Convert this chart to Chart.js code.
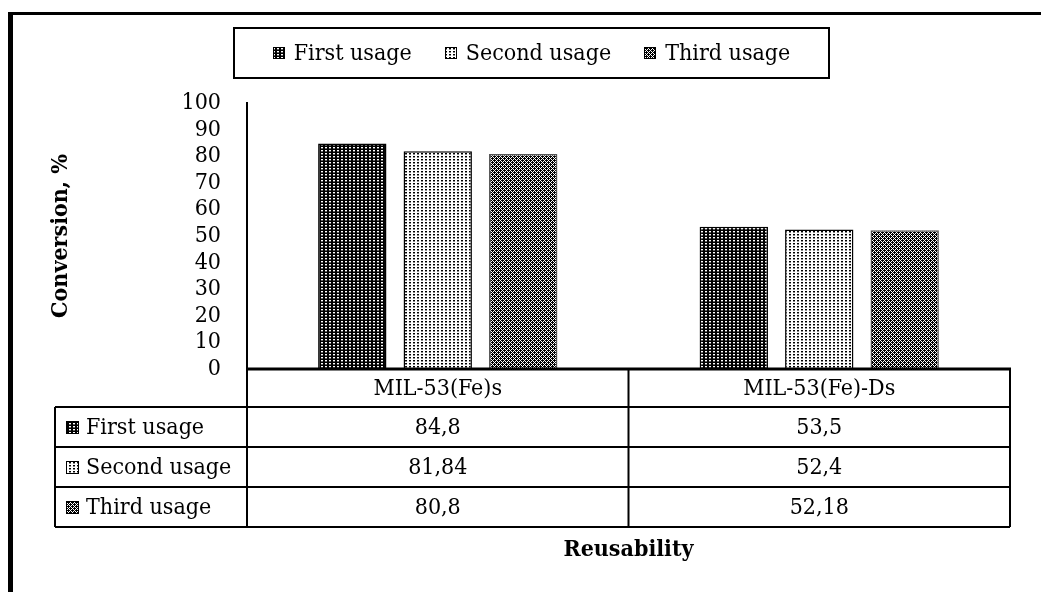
<!DOCTYPE html>
<html>
<head>
<meta charset="utf-8">
<script src="https://cdn.jsdelivr.net/npm/chart.js@4.4.1/dist/chart.umd.min.js"></script>
<style>
  html, body { margin: 0; padding: 0; background: #fff; }
  canvas { display: block; }
</style>
</head>
<body>
<canvas id="reuseChart" width="1041" height="592"></canvas>
<script>
// Conversion after repeated use of each catalyst
const categories = ['MIL-53(Fe)s', 'MIL-53(Fe)-Ds'];
const usageLabels = ['First usage', 'Second usage', 'Third usage'];
const firstUsage = [84.8, 53.5];
const secondUsage = [81.84, 52.4];
const thirdUsage = [80.8, 52.18];
const yMin = 0;
const yMax = 100;
const yStep = 10;

const FONT = "'DejaVu Serif Condensed', 'DejaVu Serif', serif";
const FS = 23;

const canvas = document.getElementById('reuseChart');
const ctx = canvas.getContext('2d');

// small pixel tiles for the hatched bar fills
function makePattern(w, h, paint) {
    const tile = document.createElement('canvas');
    tile.width = w;
    tile.height = h;
    paint(tile.getContext('2d'));
    return ctx.createPattern(tile, 'repeat');
}

const patterns = [
    makePattern(4, 3, g => {
        g.fillStyle = '#000';
        g.fillRect(0, 0, 4, 3);
        g.fillStyle = '#fff';
        g.fillRect(1, 0, 2, 1);
        g.fillStyle = '#666';
        g.fillRect(1, 1, 2, 1);
    }),
    makePattern(4, 3, g => {
        g.fillStyle = '#fff';
        g.fillRect(0, 0, 4, 3);
        g.fillStyle = '#000';
        g.fillRect(1, 0, 2, 1);
        g.fillStyle = '#888';
        g.fillRect(1, 1, 2, 1);
    }),
    makePattern(4, 4, g => {
        g.fillStyle = '#000';
        g.fillRect(0, 0, 4, 4);
        g.fillStyle = '#fff';
        for (let y = 0; y < 4; y++) {
            for (let x = 0; x < 4; x++) {
                if ((x + y) % 4 === 0 || (x - y + 4) % 4 === 0) {
                    g.fillRect(x, y, 1, 1);
                }
            }
        }
    })
];

const seriesValues = [firstUsage, secondUsage, thirdUsage];

function fmt(v) {
    return String(v).replace('.', ',');
}

function drawIcon(g, x, y, size, pattern) {
    g.fillStyle = pattern;
    g.fillRect(x, y, size, size);
    g.strokeStyle = '#000';
    g.lineWidth = 1;
    g.strokeRect(x + 0.5, y + 0.5, size - 1, size - 1);
}

// frame, boxed legend, data table under the plot and the x title
const extrasPlugin = {
    id: 'extras',
    afterDraw(chart) {
        const g = chart.ctx;
        const area = chart.chartArea;
        const xs = chart.scales.x;
        g.save();

        // outer frame (left and top edges only)
        g.fillStyle = '#000';
        g.fillRect(8, 12, 5, 580);
        g.fillRect(8, 12, 1033, 3);

        // legend
        g.font = FS + 'px ' + FONT;
        g.textBaseline = 'middle';
        g.textAlign = 'left';
        const iconSize = 12, iconGap = 9, itemGap = 33;
        const widths = usageLabels.map(t => g.measureText(t).width);
        const total = widths.reduce((a, b) => a + b, 0) + usageLabels.length * (iconSize + iconGap) + itemGap * (usageLabels.length - 1);
        const boxLeft = 234, boxRight = 829, boxTop = 28, boxBottom = 78;
        let lx = (boxLeft + boxRight) / 2 - total / 2;
        const ly = (boxTop + boxBottom) / 2;
        g.strokeStyle = '#000';
        g.lineWidth = 2;
        g.strokeRect(boxLeft, boxTop, boxRight - boxLeft, boxBottom - boxTop);
        usageLabels.forEach((t, i) => {
            drawIcon(g, Math.round(lx), Math.round(ly - iconSize / 2), iconSize, patterns[i]);
            lx += iconSize + iconGap;
            g.fillStyle = '#000';
            g.fillText(t, lx, ly + 1);
            lx += widths[i] + itemGap;
        });

        // data table
        const top = area.bottom;
        const headerH = 38, rowH = 40;
        const labelLeft = 55;
        const bottom = top + headerH + rowH * usageLabels.length;
        const bounds = [area.left];
        for (let i = 0; i < categories.length - 1; i++) {
            bounds.push((xs.getPixelForValue(i) + xs.getPixelForValue(i + 1)) / 2);
        }
        bounds.push(area.right);

        g.strokeStyle = '#000';
        g.lineWidth = 2;
        g.beginPath();
        for (let r = 1; r <= usageLabels.length; r++) {
            const y = top + headerH + rowH * (r - 1);
            g.moveTo(labelLeft, y);
            g.lineTo(area.right, y);
        }
        g.moveTo(labelLeft, bottom);
        g.lineTo(area.right, bottom);
        g.moveTo(labelLeft, top + headerH);
        g.lineTo(labelLeft, bottom);
        bounds.forEach(bx => {
            g.moveTo(bx, top);
            g.lineTo(bx, bottom);
        });
        g.stroke();

        // zero line across the plot
        g.lineWidth = 3;
        g.beginPath();
        g.moveTo(area.left - 1, top);
        g.lineTo(area.right + 1, top);
        g.stroke();

        g.fillStyle = '#000';
        g.textAlign = 'center';
        categories.forEach((c, i) => {
            g.fillText(c, xs.getPixelForValue(i), top + headerH / 2 + 1);
        });
        seriesValues.forEach((vals, r) => {
            const cy = top + headerH + rowH * r + rowH / 2 + 1;
            vals.forEach((v, i) => {
                g.fillText(fmt(v), xs.getPixelForValue(i), cy);
            });
            drawIcon(g, 66, Math.round(cy - 7), 13, patterns[r]);
            g.textAlign = 'left';
            g.fillStyle = '#000';
            g.fillText(usageLabels[r], 86, cy);
            g.textAlign = 'center';
        });

        // x axis title
        g.font = 'bold ' + FS + 'px ' + FONT;
        g.fillText('Reusability', (area.left + area.right) / 2, 550);

        g.restore();
    }
};

const chart = new Chart(ctx, {
    type: 'bar',
    data: {
        labels: categories,
        datasets: usageLabels.map((label, i) => ({
            label: label,
            data: seriesValues[i],
            backgroundColor: patterns[i],
            borderColor: i === 2 ? '#555' : '#000',
            borderWidth: 1.5
        }))
    },
    options: {
        responsive: false,
        devicePixelRatio: 1,
        animation: false,
        layout: { padding: { top: 103, right: 31, bottom: 223, left: 0 } },
        datasets: { bar: { categoryPercentage: 0.672, barPercentage: 0.8 } },
        plugins: {
            legend: { display: false },
            tooltip: { enabled: false }
        },
        scales: {
            x: { display: false },
            y: {
                min: yMin,
                max: yMax,
                ticks: {
                    stepSize: yStep,
                    autoSkip: false,
                    color: '#000',
                    padding: 26,
                    font: { family: FONT, size: FS, lineHeight: 1 }
                },
                grid: { display: false, drawTicks: false },
                border: { display: true, color: '#000', width: 2 },
                title: {
                    display: true,
                    text: 'Conversion, %',
                    color: '#000',
                    font: { family: FONT, size: FS, weight: 'bold' },
                    padding: { top: 47, bottom: 0 }
                },
                afterFit: scale => { scale.width = 247; }
            }
        }
    },
    plugins: [extrasPlugin]
});
</script>
</body>
</html>
